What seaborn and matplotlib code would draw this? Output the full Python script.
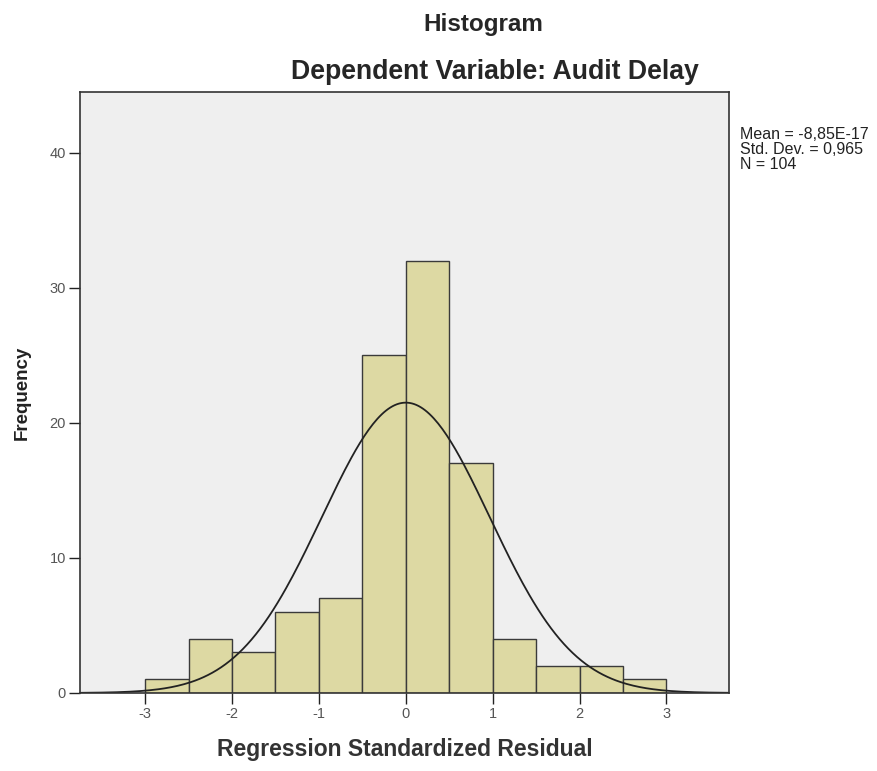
import numpy as np
import pandas as pd
import matplotlib
matplotlib.use('Agg')
import matplotlib.pyplot as plt
import seaborn as sns

# bin edges and frequencies
bin_edges = [-3.0, -2.5, -2.0, -1.5, -1.0, -0.5, 0.0, 0.5, 1.0, 1.5, 2.0, 2.5, 3.0]
frequencies = [1, 4, 3, 6, 7, 25, 32, 17, 4, 2, 2, 1]
mean_val = -8.85e-17
std_val = 0.965
n_val = 104

sns.set_style('white')
plt.rcParams['font.family'] = ['Liberation Sans', 'DejaVu Sans']
plt.rcParams['axes.unicode_minus'] = False

centers = [(a + b) / 2 for a, b in zip(bin_edges[:-1], bin_edges[1:])]
df = pd.DataFrame({'resid': centers, 'count': frequencies})

fig = plt.figure(figsize=(8.77, 7.71), dpi=100)
ax = fig.add_axes([0.0912, 0.1012, 0.740, 0.7795])
ax.set_facecolor('#EFEFEF')

sns.histplot(data=df, x='resid', weights='count', bins=bin_edges,
             color='#DDD9A3', alpha=1.0, edgecolor='#3A3A3A', linewidth=1.0, ax=ax)

# fitted normal curve scaled to counts
bw = 0.5
xs = np.linspace(-3.75, 3.72, 300)
ys = n_val * bw / (std_val * np.sqrt(2 * np.pi)) * np.exp(-0.5 * ((xs - mean_val) / std_val) ** 2)
sns.lineplot(x=xs, y=ys, color='#222222', linewidth=1.3, ax=ax)

ax.set_xlim(-3.75, 3.72)
ax.set_ylim(0, 44.5)
ax.set_xticks([-3, -2, -1, 0, 1, 2, 3])
ax.set_yticks([0, 10, 20, 30, 40])
ax.tick_params(axis='both', bottom=True, left=True, direction='out', length=8, width=1,
               color='#222222', labelcolor='#555555', labelsize=10.5, pad=2)
for s in ax.spines.values():
    s.set_color('#333333')
    s.set_linewidth(1.2)

ax.set_xlabel('Regression Standardized Residual', fontsize=16.5, fontweight='bold',
              color='#333333', labelpad=12)
ax.set_ylabel('Frequency', fontsize=13.5, fontweight='bold', color='#222222', labelpad=14)

fig.text(483 / 877, 1 - 24 / 771, 'Histogram', ha='center', va='center',
         fontsize=17.5, fontweight='bold')
fig.text(495 / 877, 1 - 72 / 771, 'Dependent Variable: Audit Delay', ha='center', va='center',
         fontsize=19.2, fontweight='bold')

fig.text(740 / 877, 1 - 127 / 771, 'Mean = -8,85E-17\nStd. Dev. = 0,965\nN = 104',
         ha='left', va='top', fontsize=11.5, color='#222222', linespacing=1.0)

fig.savefig('out.png', dpi=100)
